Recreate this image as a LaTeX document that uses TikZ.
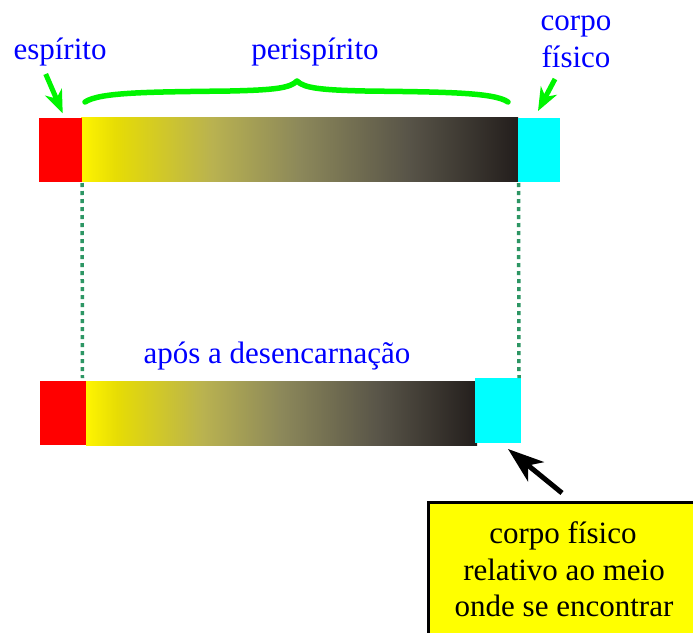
\documentclass[tikz,border=0pt]{standalone}
\usepackage{fontspec}
\setmainfont{Liberation Serif}
\newfontfamily\labelfont{Liberation Serif}
\usetikzlibrary{arrows.meta}
\definecolor{gz}{RGB}{255,245,0}
\definecolor{ga}{RGB}{230,220,5}
\definecolor{gb}{RGB}{185,178,80}
\definecolor{gc}{RGB}{140,136,90}
\definecolor{gd}{RGB}{88,84,72}
\definecolor{ge}{RGB}{35,30,28}
\definecolor{dotgreen}{RGB}{45,150,100}
\definecolor{brgreen}{RGB}{0,245,0}
\definecolor{lblue}{RGB}{0,0,255}
\definecolor{lcyan}{RGB}{0,255,255}
\definecolor{lred}{RGB}{255,0,0}
\definecolor{lyellow}{RGB}{255,255,0}
\pgfdeclarehorizontalshading{barshade}{100bp}{color(0bp)=(gz); color(25bp)=(gz); color(29bp)=(ga); color(40bp)=(gb); color(50bp)=(gc); color(62.5bp)=(gd); color(75bp)=(ge); color(100bp)=(ge)}
\begin{document}
\begin{tikzpicture}[x=1pt,y=-1pt,
  lbl/.style={text=lblue, font=\labelfont\fontsize{31}{37}\selectfont, inner sep=0pt, anchor=base},
  boxtxt/.style={text=black, font=\labelfont\fontsize{31}{37}\selectfont, inner sep=0pt, anchor=base},
  block/.style={draw=none, inner sep=0pt, outer sep=0pt, anchor=north west},
  dots/.style={draw=dotgreen, line width=3.5pt, dash pattern=on 4pt off 4pt},
  garrow/.style={draw=brgreen, line width=5pt, -{Stealth[length=23pt, width=18pt, inset=7pt]}},
  barrow/.style={draw=black, line width=5pt, -{Stealth[length=36pt, width=25pt, inset=10pt]}},
  brace/.style={draw=brgreen, line width=5.5pt, line cap=round, line join=round}]
\useasboundingbox (0,0) rectangle (693,632);
\clip (0,0) rectangle (693,632);
\fill[white] (0,0) rectangle (693,632);
% top bar
\node[block, shading=barshade, minimum width=437pt, minimum height=64pt] (g1) at (81,117.5) {};
\node[block, fill=lred, minimum width=43pt, minimum height=64pt] (r1) at (38.5,117.5) {};
\node[block, fill=lcyan, minimum width=42.6pt, minimum height=64pt] (c1) at (517.7,117.5) {};
% bottom bar
\node[block, shading=barshade, minimum width=391pt, minimum height=64pt] (g2) at (86,381) {};
\node[block, fill=lred, minimum width=46pt, minimum height=64pt] (r2) at (40,381) {};
\node[block, fill=lcyan, minimum width=45.6pt, minimum height=64.7pt] (c2) at (475,378.3) {};
% dotted lines
\coordinate (d1t) at (82,183);
\coordinate (d1b) at (82.5,378);
\coordinate (d2t) at (518.5,183);
\coordinate (d2b) at (519,378);
\draw[dots] (d1t) -- (d1b);
\draw[dots] (d2t) -- (d2b);
% labels
\node[lbl] (esp) at (60,59) {espírito};
\node[lbl] (peri) at (315,59) {perispírito};
\node[lbl] (corpoA) at (576,30) {corpo};
\node[lbl] (corpoB) at (576,67) {físico};
\node[lbl] (apos) at (277,363) {após a desencarnação};
% green arrows
\coordinate (ea) at (45.7,74);
\coordinate (eb) at (62.7,113.3);
\coordinate (ca) at (555,79);
\coordinate (cb) at (538,111);
\draw[garrow] (ea) -- (eb);
\draw[garrow] (ca) -- (cb);
% brace
\coordinate (bl) at (85,102);
\coordinate (bt) at (297,81);
\coordinate (br) at (508,102);
\draw[brace] (bl) .. controls (100,92) and (150,92) .. (230,91)
  .. controls (275,90) and (290,88) .. (bt)
  .. controls (304,88) and (320,90) .. (365,91)
  .. controls (440,92) and (494,92) .. (br);
% note box
\node[block, draw=black, line width=3pt, fill=lyellow, minimum width=300pt, minimum height=160pt] (box) at (428.5,502.5) {};
\node[boxtxt] (t1) at (563,543) {corpo físico};
\node[boxtxt] (t2) at (564,580) {relativo ao meio};
\node[boxtxt] (t3) at (564,616) {onde se encontrar};
\coordinate (ba) at (562,493);
\coordinate (bb) at (508,449);
\draw[barrow] (ba) -- (bb);
\end{tikzpicture}
\end{document}
